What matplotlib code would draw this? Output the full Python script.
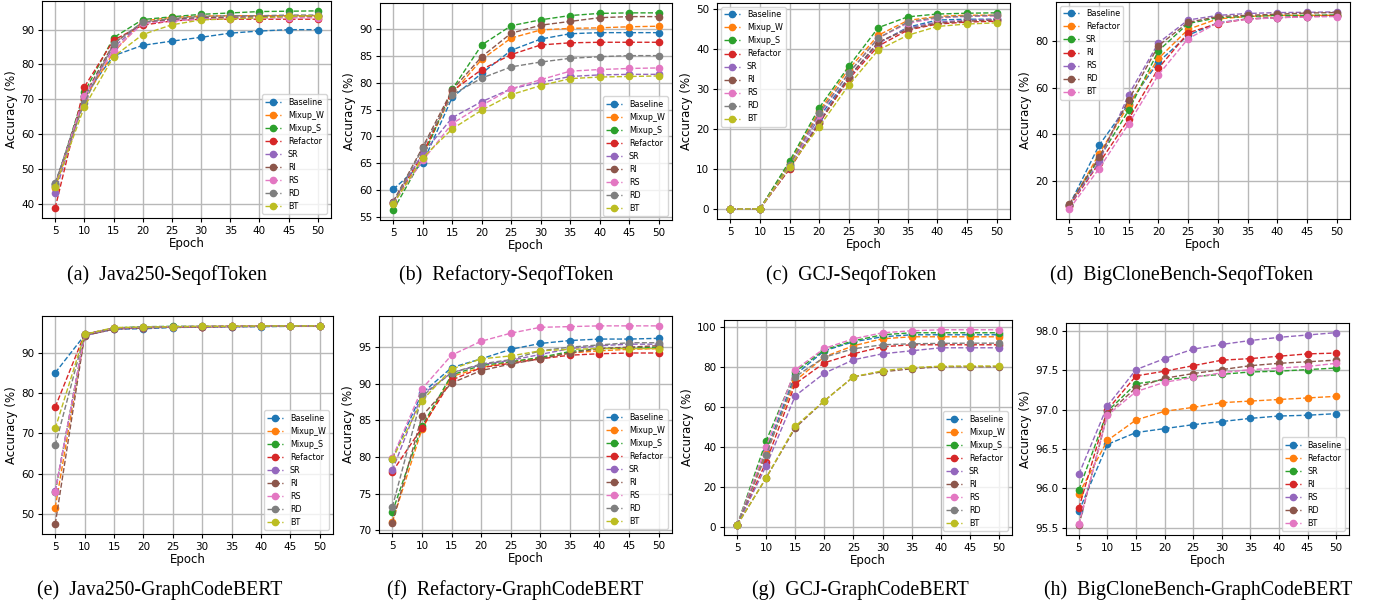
import matplotlib
matplotlib.use("Agg")
import matplotlib.pyplot as plt
from matplotlib.ticker import FormatStrFormatter

epochs = [5, 10, 15, 20, 25, 30, 35, 40, 45, 50]

names9 = ["Baseline", "Mixup_W", "Mixup_S", "Refactor", "SR", "RI", "RS", "RD", "BT"]
names7 = ["Baseline", "Refactor", "SR", "RI", "RS", "RD", "BT"]

# (a) Java250-SeqofToken
a_baseline = [45.5, 71.0, 82.5, 85.5, 86.7, 87.8, 89.0, 89.6, 90.0, 90.0]
a_mixup_w  = [44.5, 70.0, 83.5, 92.5, 93.5, 93.9, 94.0, 94.0, 94.0, 94.0]
a_mixup_s  = [45.0, 72.0, 87.7, 92.9, 93.7, 94.4, 94.8, 95.2, 95.3, 95.4]
a_refactor = [38.7, 73.5, 87.0, 91.3, 92.5, 93.0, 93.0, 93.0, 93.0, 93.0]
a_sr       = [43.0, 70.5, 85.0, 92.0, 92.8, 93.2, 93.5, 93.6, 93.7, 93.8]
a_ri       = [45.5, 71.0, 86.0, 92.0, 93.0, 93.5, 93.6, 93.7, 93.8, 93.8]
a_rs       = [45.0, 71.0, 84.0, 91.8, 92.5, 93.0, 93.2, 93.3, 93.4, 93.4]
a_rd       = [46.0, 69.0, 86.0, 92.2, 93.2, 93.8, 94.0, 94.0, 94.2, 94.2]
a_bt       = [44.8, 67.8, 82.2, 88.6, 91.4, 92.8, 93.1, 93.4, 93.8, 94.0]

# (b) Refactory-SeqofToken
b_baseline = [60.1, 65.0, 77.3, 81.8, 86.1, 88.2, 89.2, 89.4, 89.4, 89.4]
b_mixup_w  = [57.5, 66.5, 78.0, 84.4, 88.4, 89.9, 90.2, 90.3, 90.5, 90.6]
b_mixup_s  = [56.2, 66.0, 78.8, 87.1, 90.7, 91.8, 92.6, 93.0, 93.1, 93.1]
b_refactor = [57.5, 66.8, 78.5, 82.5, 85.3, 87.1, 87.5, 87.6, 87.6, 87.6]
b_sr       = [57.8, 66.8, 73.5, 76.5, 78.9, 80.1, 81.2, 81.5, 81.6, 81.6]
b_ri       = [57.8, 68.0, 78.7, 84.9, 89.3, 90.8, 91.5, 92.2, 92.4, 92.4]
b_rs       = [57.5, 65.5, 72.4, 75.8, 78.9, 80.6, 82.2, 82.5, 82.7, 82.8]
b_rd       = [57.5, 67.8, 77.8, 80.9, 83.0, 83.9, 84.6, 84.9, 85.1, 85.1]
b_bt       = [57.3, 66.0, 71.4, 74.9, 77.8, 79.5, 80.8, 81.1, 81.2, 81.3]

# (c) GCJ-SeqofToken
c_baseline = [0.0, 0.1, 11.0, 23.0, 33.0, 41.5, 45.5, 47.3, 47.5, 47.5]
c_mixup_w  = [0.0, 0.1, 11.5, 24.5, 35.0, 43.5, 47.2, 48.2, 48.5, 48.5]
c_mixup_s  = [0.0, 0.1, 12.0, 25.3, 35.7, 45.4, 48.1, 48.8, 49.0, 49.1]
c_refactor = [0.0, 0.1, 10.0, 21.5, 32.5, 40.8, 44.8, 46.3, 46.8, 47.0]
c_sr       = [0.0, 0.1, 10.5, 22.0, 33.0, 41.5, 45.3, 46.8, 47.2, 47.5]
c_ri       = [0.0, 0.1, 10.2, 21.5, 33.0, 41.8, 45.0, 46.5, 47.0, 47.3]
c_rs       = [0.0, 0.1, 10.5, 23.5, 34.0, 42.8, 46.5, 47.8, 48.2, 48.3]
c_rd       = [0.0, 0.1, 11.0, 24.0, 34.0, 42.8, 46.8, 48.0, 48.3, 48.5]
c_bt       = [0.0, 0.1, 10.6, 20.6, 31.0, 39.8, 43.5, 45.7, 46.3, 46.6]

# (d) BigCloneBench-SeqofToken
d_baseline = [9.5, 35.2, 53.0, 71.0, 82.5, 87.8, 89.5, 90.0, 90.5, 90.8]
d_refactor = [9.0, 31.5, 52.5, 72.5, 85.0, 89.5, 90.5, 91.0, 91.0, 91.0]
d_sr       = [9.5, 29.5, 50.3, 75.8, 87.5, 90.0, 90.5, 91.0, 91.0, 91.2]
d_ri       = [9.0, 27.5, 46.5, 68.3, 83.5, 87.5, 89.5, 90.0, 90.5, 90.8]
d_rs       = [9.5, 28.0, 57.0, 79.2, 89.0, 91.0, 91.8, 92.2, 92.3, 92.5]
d_rd       = [10.0, 30.0, 54.8, 78.0, 88.0, 90.5, 91.0, 91.5, 92.0, 92.2]
d_bt       = [7.8, 25.2, 44.5, 65.5, 81.0, 87.8, 89.3, 90.0, 90.3, 90.5]

# (e) Java250-GraphCodeBERT
e_baseline = [85.0, 94.3, 95.8, 95.9, 96.2, 96.3, 96.4, 96.4, 96.5, 96.5]
e_mixup_w  = [51.6, 94.3, 96.0, 96.2, 96.4, 96.4, 96.5, 96.5, 96.5, 96.5]
e_mixup_s  = [55.4, 94.5, 96.1, 96.4, 96.5, 96.5, 96.5, 96.5, 96.6, 96.6]
e_refactor = [76.5, 94.6, 96.0, 96.2, 96.3, 96.4, 96.5, 96.5, 96.5, 96.5]
e_sr       = [55.7, 94.2, 95.8, 96.1, 96.3, 96.4, 96.4, 96.5, 96.5, 96.5]
e_ri       = [47.5, 94.2, 95.8, 96.1, 96.3, 96.4, 96.4, 96.5, 96.5, 96.5]
e_rs       = [55.5, 94.5, 96.0, 96.3, 96.4, 96.5, 96.5, 96.5, 96.6, 96.6]
e_rd       = [67.0, 94.5, 96.0, 96.3, 96.4, 96.5, 96.5, 96.5, 96.6, 96.6]
e_bt       = [71.2, 94.5, 96.2, 96.3, 96.4, 96.5, 96.5, 96.6, 96.6, 96.6]

# (f) Refactory-GraphCodeBERT
f_baseline = [79.8, 88.7, 92.2, 93.4, 94.7, 95.5, 95.9, 96.1, 96.1, 96.2]
f_mixup_w  = [71.2, 83.8, 91.0, 92.2, 93.0, 93.5, 94.2, 94.5, 94.7, 94.8]
f_mixup_s  = [72.5, 84.2, 91.2, 92.5, 93.0, 93.6, 94.4, 94.8, 94.9, 95.0]
f_refactor = [78.0, 84.0, 90.5, 92.2, 92.8, 93.4, 93.9, 94.1, 94.2, 94.2]
f_sr       = [78.2, 88.5, 91.5, 92.6, 93.2, 94.0, 94.8, 95.2, 95.4, 95.4]
f_ri       = [71.0, 85.6, 90.1, 91.8, 92.7, 93.4, 94.2, 94.8, 95.0, 95.2]
f_rs       = [79.9, 89.3, 93.9, 95.8, 96.9, 97.7, 97.8, 97.9, 97.9, 97.9]
f_rd       = [73.2, 88.3, 91.5, 92.7, 93.3, 94.5, 95.0, 95.3, 95.6, 95.6]
f_bt       = [79.7, 87.7, 92.0, 93.4, 93.8, 94.5, 94.7, 94.8, 94.8, 94.8]

# (g) GCJ-GraphCodeBERT
g_baseline = [0.8, 38.0, 76.0, 88.0, 92.5, 95.0, 96.0, 96.0, 96.0, 96.0]
g_mixup_w  = [0.8, 37.0, 73.0, 85.0, 90.5, 94.0, 95.0, 95.0, 95.0, 95.0]
g_mixup_s  = [0.8, 43.0, 77.5, 88.5, 93.0, 96.0, 97.0, 97.0, 97.0, 97.0]
g_refactor = [0.8, 32.5, 71.5, 82.0, 86.5, 90.0, 91.0, 91.0, 91.0, 91.0]
g_sr       = [0.8, 30.5, 65.5, 76.8, 83.5, 86.5, 88.0, 89.5, 89.5, 89.5]
g_ri       = [0.8, 24.5, 49.5, 63.0, 75.0, 77.5, 79.0, 80.0, 80.0, 80.0]
g_rs       = [0.8, 40.0, 78.5, 89.2, 94.0, 97.0, 98.0, 98.5, 98.5, 98.5]
g_rd       = [0.8, 36.0, 75.0, 84.8, 89.0, 91.0, 91.5, 91.7, 91.8, 91.8]
g_bt       = [0.8, 24.5, 50.3, 63.0, 75.0, 78.0, 79.6, 80.3, 80.4, 80.4]

# (h) BigCloneBench-GraphCodeBERT
h_baseline = [95.71, 96.56, 96.71, 96.76, 96.81, 96.85, 96.89, 96.92, 96.93, 96.95]
h_refactor = [95.93, 96.61, 96.87, 96.98, 97.03, 97.09, 97.11, 97.13, 97.15, 97.17]
h_sr       = [95.98, 96.98, 97.33, 97.38, 97.42, 97.45, 97.48, 97.49, 97.51, 97.53]
h_ri       = [95.75, 97.00, 97.43, 97.49, 97.56, 97.63, 97.65, 97.68, 97.71, 97.72]
h_rs       = [96.18, 97.05, 97.51, 97.65, 97.77, 97.83, 97.88, 97.92, 97.95, 97.98]
h_rd       = [95.53, 96.95, 97.28, 97.40, 97.46, 97.51, 97.56, 97.59, 97.61, 97.63]
h_bt       = [95.55, 96.93, 97.23, 97.35, 97.41, 97.47, 97.51, 97.53, 97.55, 97.59]

captions = [
    "(a)  Java250-SeqofToken",
    "(b)  Refactory-SeqofToken",
    "(c)  GCJ-SeqofToken",
    "(d)  BigCloneBench-SeqofToken",
    "(e)  Java250-GraphCodeBERT",
    "(f)  Refactory-GraphCodeBERT",
    "(g)  GCJ-GraphCodeBERT",
    "(h)  BigCloneBench-GraphCodeBERT",
]

panels = [
    (names9, [a_baseline, a_mixup_w, a_mixup_s, a_refactor, a_sr, a_ri, a_rs, a_rd, a_bt], "lower right"),
    (names9, [b_baseline, b_mixup_w, b_mixup_s, b_refactor, b_sr, b_ri, b_rs, b_rd, b_bt], "lower right"),
    (names9, [c_baseline, c_mixup_w, c_mixup_s, c_refactor, c_sr, c_ri, c_rs, c_rd, c_bt], "upper left"),
    (names7, [d_baseline, d_refactor, d_sr, d_ri, d_rs, d_rd, d_bt], "upper left"),
    (names9, [e_baseline, e_mixup_w, e_mixup_s, e_refactor, e_sr, e_ri, e_rs, e_rd, e_bt], "lower right"),
    (names9, [f_baseline, f_mixup_w, f_mixup_s, f_refactor, f_sr, f_ri, f_rs, f_rd, f_bt], "lower right"),
    (names9, [g_baseline, g_mixup_w, g_mixup_s, g_refactor, g_sr, g_ri, g_rs, g_rd, g_bt], "lower right"),
    (names7, [h_baseline, h_refactor, h_sr, h_ri, h_rs, h_rd, h_bt], "lower right"),
]

W, H = 1375, 609
# axes boxes in pixels: left, right, top, bottom
boxes = [
    (42, 331, 1, 218),
    (380, 672, 3, 220),
    (717, 1010, 3, 219),
    (1056, 1350, 2, 219),
    (42, 333, 316, 534),
    (379, 672, 316, 533),
    (724, 1012, 320, 535),
    (1066, 1349, 323, 535),
]
cap_x = [167, 506, 851, 1182, 160, 515, 860, 1198]
cap_y = [275, 275, 275, 275, 590, 590, 590, 590]

fig = plt.figure(figsize=(W / 100, H / 100), dpi=100)
colors = plt.rcParams["axes.prop_cycle"].by_key()["color"]

for i, ((names, series, loc), (l, r, t, b)) in enumerate(zip(panels, boxes)):
    ax = fig.add_axes([l / W, 1 - b / H, (r - l) / W, (b - t) / H])
    ax.grid(True, color="#b8b8b8", linewidth=1.0, zorder=0)
    ax.set_axisbelow(True)
    for k, (nm, ys) in enumerate(zip(names, series)):
        ax.plot(epochs, ys, linestyle="--", marker="o", markersize=4.5,
                linewidth=1.0, color=colors[k % 10], label=nm)
    ax.set_xticks(epochs)
    ax.tick_params(labelsize=7.5, length=3, width=0.8, pad=2.5)
    ax.set_xlabel("Epoch", fontsize=8.5, labelpad=1)
    ax.set_ylabel("Accuracy (%)", fontsize=8.5, labelpad=2)
    if i == 7:
        ax.yaxis.set_major_formatter(FormatStrFormatter("%.1f"))
    ax.legend(loc=loc, fontsize=5.8, framealpha=0.8)
    fig.text(cap_x[i] / W, 1 - cap_y[i] / H, captions[i], ha="center", va="center",
             fontsize=14.3, family="Liberation Serif")

fig.savefig("out.png", dpi=100)
